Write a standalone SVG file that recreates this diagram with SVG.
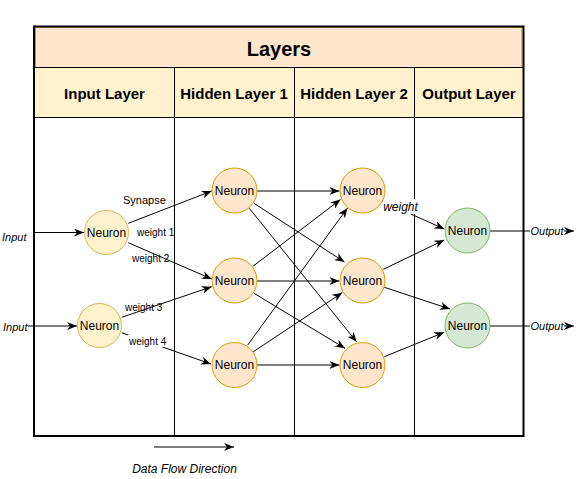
<svg xmlns="http://www.w3.org/2000/svg" width="585" height="479" viewBox="0 0 585 479">
<style>
.t{font-family:"Liberation Sans",Arial,sans-serif;fill:#000}
.hd{font-size:15px;font-weight:bold;text-anchor:middle}
.nt{font-size:12px;text-anchor:middle}
.lb{font-size:10px}
.it{font-style:italic;font-size:11px}
.ln{stroke:#000;stroke-width:1;fill:none}
.e{stroke:#000;stroke-width:1;fill:none;marker-end:url(#arr)}
.nin{fill:#fff2cc;stroke:#d6b656}
.nhid{fill:#ffe6cc;stroke:#d79b00}
.nout{fill:#d5e8d4;stroke:#82b366}
</style>
<defs>
<marker id="arr" viewBox="0 0 10 8" refX="10" refY="4" markerWidth="10" markerHeight="8" markerUnits="userSpaceOnUse" orient="auto">
<path d="M0,0 L10,4 L0,8 L3,4 Z" fill="#000"/>
</marker>
</defs>
<rect width="585" height="479" fill="#fff"/>
<g id="layers">
<rect x="34" y="26.5" width="489.5" height="409.5" fill="#fff"/>
<rect x="35.5" y="27.5" width="486.5" height="40" fill="#ffe6cc" stroke="#d79b00"/>
<rect x="35" y="67.5" width="488" height="50" fill="#fff2cc"/>
<line class="ln" x1="34" y1="67.5" x2="523.5" y2="67.5"/>
<line class="ln" x1="34" y1="117.5" x2="523.5" y2="117.5"/>
<line class="ln" x1="174.5" y1="67.5" x2="174.5" y2="436"/>
<line class="ln" x1="294.5" y1="67.5" x2="294.5" y2="436"/>
<line class="ln" x1="414.5" y1="67.5" x2="414.5" y2="436"/>
<rect x="34" y="26.5" width="489.5" height="409.5" fill="none" stroke="#000" stroke-width="2"/>
<text class="t" x="279" y="56" font-size="20" font-weight="bold" text-anchor="middle">Layers</text>
<text class="t hd" x="104.5" y="98.5">Input Layer</text>
<text class="t hd" x="234" y="98.5">Hidden Layer 1</text>
<text class="t hd" x="354" y="98.5">Hidden Layer 2</text>
<text class="t hd" x="469" y="98.5">Output Layer</text>
</g>
<g id="connectors">
<line class="e" x1="35" y1="232.5" x2="84" y2="232.5"/>
<line class="e" x1="28" y1="326" x2="77" y2="326"/>
<line class="e" x1="128.3" y1="223.3" x2="211.7" y2="191"/>
<line class="e" x1="128.3" y1="242.7" x2="211.7" y2="279"/>
<line class="e" x1="121.7" y1="317.3" x2="211.7" y2="286.7"/>
<line class="e" x1="121.7" y1="332.7" x2="211" y2="364"/>
<line class="e" x1="257" y1="191" x2="339.5" y2="191"/>
<line class="e" x1="254" y1="203.3" x2="344.5" y2="262"/>
<line class="e" x1="249.3" y1="208.3" x2="356.7" y2="342"/>
<line class="e" x1="253.3" y1="266" x2="340.5" y2="199.5"/>
<line class="e" x1="257" y1="281" x2="339.5" y2="281"/>
<line class="e" x1="254" y1="293.3" x2="345" y2="348.3"/>
<line class="e" x1="247.7" y1="345" x2="347.5" y2="208"/>
<line class="e" x1="253.3" y1="351.7" x2="342.3" y2="292.7"/>
<line class="e" x1="257" y1="365" x2="339.5" y2="365"/>
<line class="e" x1="382" y1="201" x2="444.3" y2="229"/>
<line class="e" x1="383.3" y1="269.3" x2="444.3" y2="240"/>
<line class="e" x1="384.3" y1="287.3" x2="450" y2="309"/>
<line class="e" x1="384.3" y1="356.7" x2="444.3" y2="332.3"/>
<line class="e" x1="490" y1="231" x2="574" y2="231"/>
<line class="e" x1="490" y1="326" x2="574" y2="326"/>
<line class="e" x1="154" y1="447" x2="234" y2="447"/>
<text class="t it" x="2" y="240.5">Input</text>
<text class="t it" x="3" y="330.5">Input</text>
<text class="t" x="123" y="204" font-size="11">Synapse</text>
<text class="t lb" x="137" y="236">weight 1</text>
<text class="t lb" x="132" y="261.5">weight 2</text>
<text class="t lb" x="125" y="311">weight 3</text>
<rect x="128" y="335" width="39" height="12" fill="#fff"/>
<text class="t lb" x="129" y="344.5">weight 4</text>
<rect x="383" y="199" width="35" height="15" fill="#fff"/>
<text class="t" x="400.5" y="211" font-size="12" font-style="italic" text-anchor="middle">weight</text>
<rect x="530" y="224" width="34" height="14" fill="#fff"/>
<text class="t it" x="547" y="234.5" text-anchor="middle">Output</text>
<rect x="530" y="319" width="34" height="14" fill="#fff"/>
<text class="t it" x="547" y="329.5" text-anchor="middle">Output</text>
<text class="t" x="184.5" y="473" font-size="12" font-style="italic" text-anchor="middle">Data Flow Direction</text>
</g>
<g id="in1"><circle class="nin" cx="106.5" cy="232.5" r="22"/><text class="t nt" x="106.5" y="236.8">Neuron</text></g>
<g id="in2"><circle class="nin" cx="99.5" cy="325.5" r="22"/><text class="t nt" x="99.5" y="329.8">Neuron</text></g>
<g id="h1a"><circle class="nhid" cx="234.5" cy="190.5" r="22.5"/><text class="t nt" x="234.5" y="194.8">Neuron</text></g>
<g id="h1b"><circle class="nhid" cx="234.5" cy="280.5" r="22.5"/><text class="t nt" x="234.5" y="284.8">Neuron</text></g>
<g id="h1c"><circle class="nhid" cx="234.5" cy="365" r="22.5"/><text class="t nt" x="234.5" y="369.3">Neuron</text></g>
<g id="h2a"><circle class="nhid" cx="362.5" cy="190.5" r="22.5"/><text class="t nt" x="362.5" y="194.8">Neuron</text></g>
<g id="h2b"><circle class="nhid" cx="362.5" cy="280.5" r="22.5"/><text class="t nt" x="362.5" y="284.8">Neuron</text></g>
<g id="h2c"><circle class="nhid" cx="362.5" cy="365" r="22.5"/><text class="t nt" x="362.5" y="369.3">Neuron</text></g>
<g id="o1"><circle class="nout" cx="467.5" cy="230.5" r="22.5"/><text class="t nt" x="467.5" y="234.8">Neuron</text></g>
<g id="o2"><circle class="nout" cx="467.5" cy="325.5" r="22.5"/><text class="t nt" x="467.5" y="329.8">Neuron</text></g>
</svg>
